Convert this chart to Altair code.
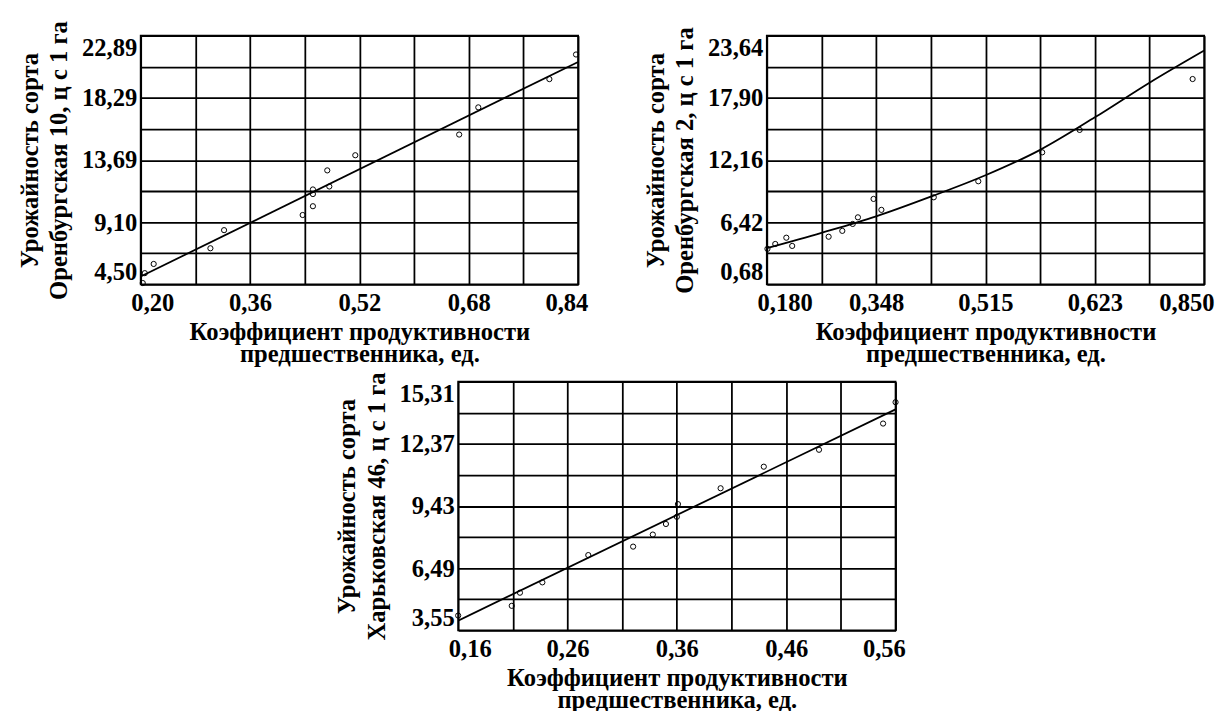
import altair as alt
import pandas as pd

# ---------------- data ----------------
X_TITLE = ["Коэффициент продуктивности", "предшественника, ед."]

# Panel 1 — Оренбургская 10
P1_Y_TITLE = ["Урожайность сорта", "Оренбургская 10, ц с 1 га"]
P1_X_LABELS = ["0,20", "0,36", "0,52", "0,68", "0,84"]
P1_Y_LABELS = ["4,50", "9,10", "13,69", "18,29", "22,89"]
P1_PX = [0.203, 0.206, 0.219, 0.302, 0.322, 0.437, 0.452, 0.452, 0.452, 0.476, 0.473, 0.514, 0.666, 0.694, 0.798, 0.837]
P1_PY = [4.60, 5.33, 6.01, 7.17, 8.51, 9.63, 10.28, 11.18, 11.52, 11.74, 12.93, 14.05, 15.58, 17.59, 19.68, 21.50]
P1_LX = [0.20, 0.84]
P1_LY = [5.08, 20.95]

# Panel 2 — Оренбургская 2
P2_Y_TITLE = ["Урожайность сорта", "Оренбургская 2, ц с 1 га"]
P2_X_LABELS = ["0,180", "0,348", "0,515", "0,623", "0,850"]
P2_Y_LABELS = ["0,68", "6,42", "12,16", "17,90", "23,64"]
P2_PX = [0.181, 0.193, 0.210, 0.219, 0.275, 0.296, 0.312, 0.320, 0.344, 0.356, 0.436, 0.504, 0.571, 0.608, 0.826]
P2_PY = [3.96, 4.41, 4.99, 4.23, 5.08, 5.62, 6.26, 6.87, 8.57, 7.56, 8.72, 10.20, 12.87, 14.94, 19.64]
P2_LX = [0.180, 0.264, 0.348, 0.4315, 0.515, 0.569, 0.623, 0.7365, 0.850]
P2_LY = [4.02, 5.44, 6.96, 8.78, 10.75, 13.10, 16.10, 19.30, 22.27]

# Panel 3 — Харьковская 46
P3_Y_TITLE = ["Урожайность сорта", "Харьковская 46, ц с 1 га"]
P3_X_LABELS = ["0,16", "0,26", "0,36", "0,46", "0,56"]
P3_Y_LABELS = ["3,55", "6,49", "9,43", "12,37", "15,31"]
P3_PX = [0.160, 0.209, 0.2165, 0.237, 0.279, 0.320, 0.338, 0.350, 0.360, 0.361, 0.400, 0.4395, 0.490, 0.5486, 0.560]
P3_PY = [4.25, 4.71, 5.33, 5.82, 7.11, 7.51, 8.08, 8.58, 8.92, 9.52, 10.27, 11.29, 12.09, 13.33, 14.34]
P3_LX = [0.16, 0.56]
P3_LY = [4.01, 14.00]

# ---------------- chart ----------------
W, H = 445, 253
FONT = "Times New Roman, Liberation Serif, serif"


def tick_setup(labels):
    vals = [float(s.replace(",", ".")) for s in labels]
    mids = [round((a + b) / 2, 6) for a, b in zip(vals[:-1], vals[1:])]
    allv = sorted(vals + mids)
    expr = "''"
    for v, s in reversed(list(zip(vals, labels))):
        expr = "abs(datum.value - %r) < 1e-6 ? '%s' : (%s)" % (v, s, expr)
    return vals, allv, expr


def panel(px, py, lx, ly, xl, yl, ytitle, piecewise=False, interp="linear"):
    xv, xall, xexpr = tick_setup(xl)
    yv, yall, yexpr = tick_setup(yl)
    if piecewise:
        xscale = alt.Scale(domain=xv, range=[W * i / (len(xv) - 1) for i in range(len(xv))],
                           zero=False, nice=False)
    else:
        xscale = alt.Scale(domain=[xv[0], xv[-1]], zero=False, nice=False)
    yscale = alt.Scale(domain=[yv[0], yv[-1]], zero=False, nice=False)
    xaxis = alt.Axis(values=xall, labelExpr=xexpr, title=X_TITLE, grid=True, ticks=False,
                     domain=False, labelPadding=7, titlePadding=4, titleLineHeight=22,
                     labelFlush=True, labelFlushOffset=10, labelOverlap=False)
    yaxis = alt.Axis(values=yall, labelExpr=yexpr, title=ytitle, grid=True, ticks=False,
                     domain=False, labelPadding=4, titlePadding=10, titleLineHeight=30,
                     labelFlush=True, labelOverlap=False)
    pts = pd.DataFrame({"x": px, "y": py})
    line = pd.DataFrame({"x": lx, "y": ly})
    ln = alt.Chart(line).mark_line(color="black", strokeWidth=1.8, interpolate=interp, clip=True).encode(
        x=alt.X("x:Q", scale=xscale, axis=xaxis),
        y=alt.Y("y:Q", scale=yscale, axis=yaxis),
    )
    dots = alt.Chart(pts).mark_point(shape="circle", filled=False, size=28, color="black",
                                     strokeWidth=1, opacity=1).encode(
        x=alt.X("x:Q", scale=xscale, axis=xaxis),
        y=alt.Y("y:Q", scale=yscale, axis=yaxis),
    )
    return alt.layer(ln, dots).properties(width=W, height=H)


p1 = panel(P1_PX, P1_PY, P1_LX, P1_LY, P1_X_LABELS, P1_Y_LABELS, P1_Y_TITLE)
p2 = panel(P2_PX, P2_PY, P2_LX, P2_LY, P2_X_LABELS, P2_Y_LABELS, P2_Y_TITLE,
           piecewise=True, interp="monotone")
p3 = panel(P3_PX, P3_PY, P3_LX, P3_LY, P3_X_LABELS, P3_Y_LABELS, P3_Y_TITLE)

# invisible 1px view used only to indent the lower panel
spacer = alt.Chart(pd.DataFrame({"v": [0]})).mark_point(opacity=0).encode(
    x=alt.X("v:Q", axis=None), y=alt.Y("v:Q", axis=None)
).properties(width=1, height=1, view=alt.ViewBackground(stroke="transparent"))

top = alt.hconcat(p1, p2, spacing=54)
bottom = alt.hconcat(spacer, p3, spacing=191)
chart = alt.vconcat(top, bottom, spacing=4).configure_axis(
    labelFont=FONT, titleFont=FONT, labelFontSize=25, titleFontSize=25,
    labelFontWeight="bold", titleFontWeight="bold", labelColor="black", titleColor="black",
    gridColor="black", gridWidth=1.8, gridOpacity=1,
).configure_view(stroke="black", strokeWidth=1.8).properties(
    background="white", padding={"left": 8, "top": 5, "right": 0, "bottom": 0})

chart.save("out.html", embed_options={"renderer": "svg", "actions": False})
